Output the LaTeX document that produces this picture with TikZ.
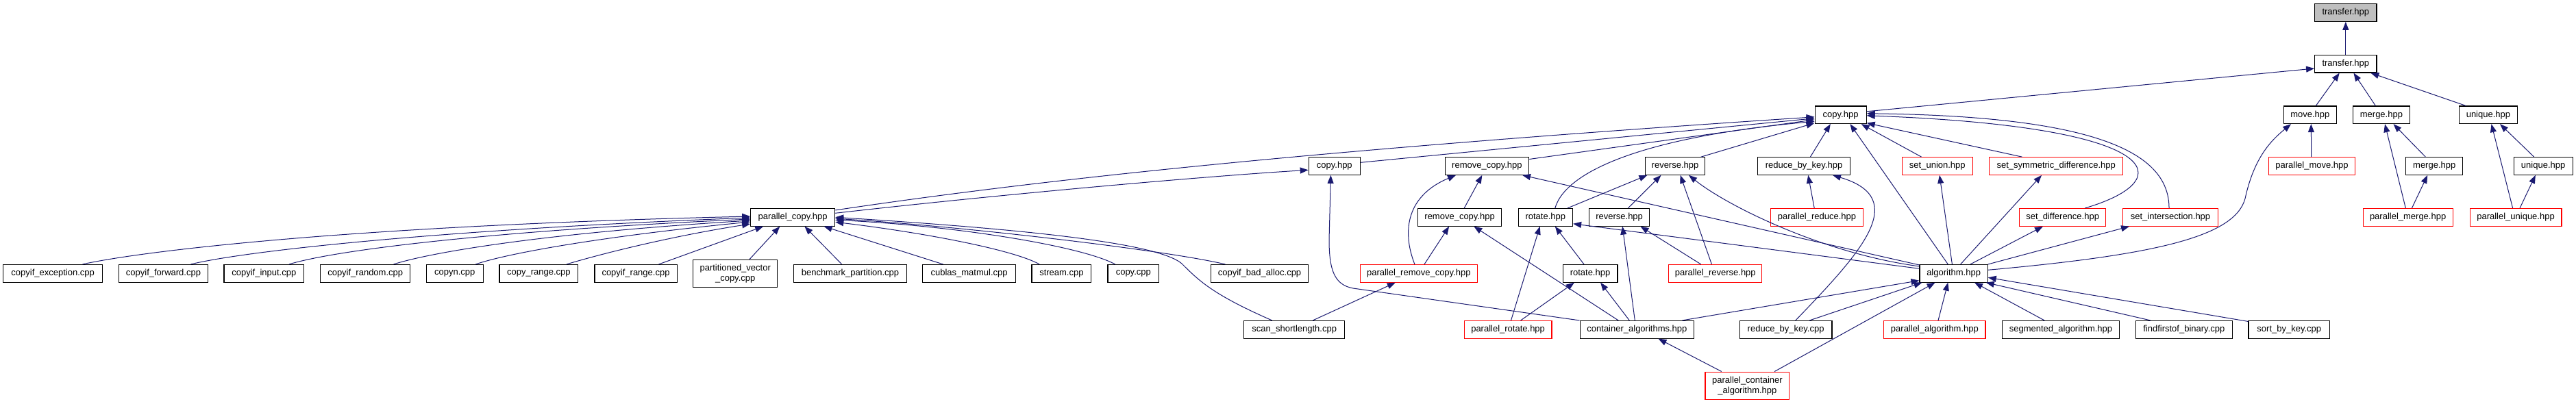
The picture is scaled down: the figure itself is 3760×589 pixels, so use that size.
\documentclass[tikz,border=0pt]{standalone}
\usepackage{fontspec}
\setmainfont{Liberation Sans}
\usetikzlibrary{arrows.meta}
\definecolor{edgeblue}{HTML}{191970}
\definecolor{rootgray}{HTML}{BFBFBF}
\definecolor{redbox}{HTML}{FF0000}
\tikzset{
  box/.style={draw=black, line width=1.1pt, fill=white, minimum height=25.6pt, inner sep=0pt, font=\fontsize{13}{15}\selectfont, text=black, align=center},
  redb/.style={box, draw=redbox},
  bw/.style={minimum width=#1pt},
  tall/.style={minimum height=40.3pt},
  e/.style={draw=edgeblue, line width=1pt, -{Triangle[length=12pt,width=9pt]}},
}
\begin{document}
\begin{tikzpicture}[x=1pt,y=-1pt]
\useasboundingbox (0,0) rectangle (3760,589);
\fill[white] (0,0) rectangle (3760,589);
% R0
\node[box, fill=rootgray, bw=90.4] (tg) at (3423.8,18.5) {transfer.hpp};
% R1
\node[box, bw=90.4] (tr) at (3423.8,93.2) {transfer.hpp};
% R2
\node[box, bw=75.1] (copyA) at (2686.6,167.8) {copy.hpp};
\node[box, bw=77.5] (move) at (3371.8,167.8) {move.hpp};
\node[box, bw=82.5] (merge) at (3475.9,167.8) {merge.hpp};
\node[box, bw=85.4] (unique) at (3631.9,167.8) {unique.hpp};
% R3
\node[box, bw=75.2] (copyB) at (1947.8,242.5) {copy.hpp};
\node[box, bw=122.6] (rcA) at (2170.4,242.5) {remove\_copy.hpp};
\node[box, bw=87.6] (revA) at (2445,242.5) {reverse.hpp};
\node[box, bw=134.7] (rbkh) at (2633,242.5) {reduce\_by\_key.hpp};
\node[redb, bw=102.9] (sunion) at (2827.8,242.5) {set\_union.hpp};
\node[redb, bw=195.1] (ssym) at (3001.2,242.5) {set\_symmetric\_difference.hpp};
\node[redb, bw=125.2] (pmove) at (3374.5,242.5) {parallel\_move.hpp};
\node[box, bw=82.9] (mergeB) at (3553.2,242.5) {merge.hpp};
\node[box, bw=85.8] (uniqueB) at (3712.1,242.5) {unique.hpp};
% R4
\node[box, bw=123] (pcopy) at (1157.2,317.3) {parallel\_copy.hpp};
\node[box, bw=122.6] (rcB) at (2130.6,317.3) {remove\_copy.hpp};
\node[box, bw=79.5] (rotA) at (2255.8,317.3) {rotate.hpp};
\node[box, bw=88] (revB) at (2363.6,317.3) {reverse.hpp};
\node[redb, bw=134.3] (preduce) at (2652,317.3) {parallel\_reduce.hpp};
\node[redb, bw=126.6] (sdiff) at (3010.6,317.3) {set\_difference.hpp};
\node[redb, bw=138.5] (sinter) at (3168,317.3) {set\_intersection.hpp};
\node[redb, bw=131] (pmerge) at (3514.6,317.3) {parallel\_merge.hpp};
\node[redb, bw=133.9] (punique) at (3672,317.3) {parallel\_unique.hpp};
% R5
\node[box, bw=144.7] (cex) at (77.2,399.3) {copyif\_exception.cpp};
\node[box, bw=129.7] (cfw) at (238.5,399.3) {copyif\_forward.cpp};
\node[box, bw=116.6] (cin) at (385.3,399.3) {copyif\_input.cpp};
\node[box, bw=131] (crand) at (533.2,399.3) {copyif\_random.cpp};
\node[box, bw=82.8] (copyn) at (663.8,399.3) {copyn.cpp};
\node[box, bw=114.9] (crange) at (786.4,399.3) {copy\_range.cpp};
\node[box, bw=120.1] (cifrange) at (928,399.3) {copyif\_range.cpp};
\node[box, bw=123, tall] (pvc) at (1073.2,399.3) {partitioned\_vector\\\_copy.cpp};
\node[box, bw=164.4] (bench) at (1241,399.3) {benchmark\_partition.cpp};
\node[box, bw=135.4] (cublas) at (1414.6,399.3) {cublas\_matmul.cpp};
\node[box, bw=86.8] (stream) at (1549.4,399.3) {stream.cpp};
\node[box, bw=74.7] (copycpp) at (1654.3,399.3) {copy.cpp};
\node[box, bw=142.7] (cbad) at (1838.5,399.3) {copyif\_bad\_alloc.cpp};
\node[redb, bw=170.7] (prc) at (2070.8,399.3) {parallel\_remove\_copy.hpp};
\node[box, bw=79.9] (rotB) at (2321,399.3) {rotate.hpp};
\node[redb, bw=136] (prev) at (2503.8,399.3) {parallel\_reverse.hpp};
\node[box, bw=99.2] (algo) at (2851.6,399.3) {algorithm.hpp};
% R6
\node[box, bw=146.7] (scan) at (1889.2,481.3) {scan\_shortlength.cpp};
\node[redb, bw=127.8] (prot) at (2201.1,481.3) {parallel\_rotate.hpp};
\node[box, bw=166.7] (calg) at (2389.4,481.3) {container\_algorithms.hpp};
\node[box, bw=134.7] (rbkcpp) at (2606.6,481.3) {reduce\_by\_key.cpp};
\node[redb, bw=148.2] (palg) at (2823.9,481.3) {parallel\_algorithm.hpp};
\node[box, bw=170.2] (seg) at (3008,481.3) {segmented\_algorithm.hpp};
\node[box, bw=140.5] (ffob) at (3187.8,481.3) {findfirstof\_binary.cpp};
\node[box, bw=118.6] (sbk) at (3341.3,481.3) {sort\_by\_key.cpp};
% R7
\node[redb, bw=122.8, tall] (pcalg) at (2550.4,563.2) {parallel\_container\\\_algorithm.hpp};

% ---- edges ----
\draw[e] (tr.north) -- (tg.south);
\draw[e] ([yshift=5pt]copyA.east) -- ([yshift=-6.8pt]tr.west);
\draw[e] ([xshift=8.5pt]move.north) -- ([xshift=-9.1pt]tr.south);
\draw[e] ([xshift=-8.5pt]merge.north) -- ([xshift=11.6pt]tr.south);
\draw[e] ([xshift=-32.7pt]unique.north) -- ([xshift=36.5pt]tr.south);
\draw[e] ([xshift=-0.8pt]pmove.north) -- ([xshift=1.5pt]move.south);
\draw[e] ([yshift=5pt]algo.east) .. controls (3150,372) and (3262,345) .. (3277,290) .. controls (3290,230) and (3315,205) .. ([xshift=-27.8pt]move.south);
\draw[e] ([xshift=-12.9pt]mergeB.north) -- ([xshift=17.6pt]merge.south);
\draw[e] ([xshift=-3.3pt]pmerge.north) -- ([xshift=5.1pt]merge.south);
\draw[e] ([xshift=5.8pt]pmerge.north) -- ([xshift=-10pt]mergeB.south);
\draw[e] ([xshift=-13.4pt]uniqueB.north) -- ([xshift=17.1pt]unique.south);
\draw[e] ([xshift=-4.4pt]punique.north) -- ([xshift=4.6pt]unique.south);
\draw[e] ([xshift=6pt]punique.north) -- ([xshift=-11.3pt]uniqueB.south);
% into copyA
\draw[e] ([yshift=-3pt]pcopy.north east) .. controls (1500,265) and (1900,220) .. ([yshift=-3pt]copyA.west);
\draw[e] ([yshift=6pt]pcopy.east) .. controls (1450,285) and (1750,258) .. ([yshift=-5.8pt]copyB.west);
\draw[e] ([yshift=5.2pt]copyB.east) -- ([yshift=-5pt]copyA.west);
\draw[e] ([yshift=10pt]rcA.east) -- ([yshift=-7pt]copyA.west);
\draw[e] ([xshift=14pt]rotA.north) .. controls (2285,250) and (2400,200) .. ([yshift=-9.5pt]copyA.west);
\draw[e] ([xshift=37.8pt]revA.north) -- ([yshift=1.5pt]copyA.south west);
\draw[e] ([xshift=9.4pt]rbkh.north) -- ([xshift=-14.8pt]copyA.south);
\draw[e] ([xshift=-8.3pt]algo.north) -- ([xshift=13.8pt]copyA.south);
\draw[e] ([xshift=-23.3pt]sunion.north) -- ([xshift=30.1pt]copyA.south);
\draw[e] ([xshift=-49.8pt]ssym.north) -- ([yshift=1.5pt]copyA.south east);
\draw[e] ([xshift=32.7pt]sdiff.north) .. controls (3185,262) and (3160,185) .. ([yshift=-1pt]copyA.east);
\draw[e] ([xshift=-2pt]sinter.north) .. controls (3166,230) and (3080,170) .. ([yshift=2pt]copyA.east);
% into copyB
\draw[e] (calg.north west) -- (1975,421) .. controls (1948,416) and (1940,395) .. (1940,350) -- ([xshift=-5.4pt]copyB.south);
% into rcA
\draw[e] ([xshift=-5.9pt]prc.north) .. controls (2045,335) and (2055,285) .. ([xshift=-45.4pt]rcA.south);
\draw[e] ([xshift=6.6pt]rcB.north) -- ([xshift=-7.1pt]rcA.south);
\draw[e] ([yshift=-1pt]algo.north west) -- ([xshift=51.6pt]rcA.south);
% into revA
\draw[e] ([xshift=32.2pt]rotA.north) -- ([xshift=-40.6pt]revA.south);
\draw[e] ([xshift=12.7pt]revB.north) -- ([xshift=-20.5pt]revA.south);
\draw[e] ([xshift=-5.4pt]prev.north) -- ([xshift=7.6pt]revA.south);
\draw[e] ([yshift=-3pt]algo.north west) .. controls (2660,370) and (2520,300) .. ([xshift=20pt]revA.south);
% into rotA
\draw[e] ([yshift=7pt]algo.west) -- ([yshift=-9.5pt]rotA.east);
\draw[e] ([xshift=4.4pt]prot.north) -- ([xshift=-8.1pt]rotA.south);
\draw[e] ([xshift=-9pt]rotB.north) -- ([xshift=14pt]rotA.south);
% into rotB
\draw[e] ([xshift=18.5pt]prot.north) -- ([xshift=-23.1pt]rotB.south);
\draw[e] ([xshift=-11.1pt]calg.north) -- ([xshift=15.1pt]rotB.south);
% into revB
\draw[e] ([xshift=-3.1pt]calg.north) -- ([xshift=4.6pt]revB.south);
\draw[e] ([xshift=-21.1pt]prev.north) -- ([xshift=30.8pt]revB.south);
% into rcB
\draw[e] ([xshift=8.2pt]prc.north) -- ([xshift=-15.5pt]rcB.south);
\draw[e] ([xshift=-27.2pt]calg.north) -- ([xshift=20.7pt]rcB.south);
% into prc
\draw[e] ([xshift=27pt]scan.north) -- ([xshift=-34pt]prc.south);
% into calg
\draw[e] ([xshift=-37.7pt]pcalg.north) -- ([xshift=31.1pt]calg.south);
% into algo
\draw[e] ([xshift=-18pt]calg.north east) -- ([yshift=3pt]algo.south west);
\draw[e] ([xshift=34.6pt]rbkcpp.north) -- ([xshift=4pt]algo.south west);
\draw[e] ([xshift=39.8pt]pcalg.north) -- ([xshift=-27pt]algo.south);
\draw[e] ([xshift=5.1pt]palg.north) -- ([xshift=-8.3pt]algo.south);
\draw[e] ([xshift=-23.9pt]seg.north) -- ([xshift=30.4pt]algo.south);
\draw[e] ([xshift=-48.8pt]ffob.north) -- ([xshift=-3pt]algo.south east);
\draw[e] ([yshift=-1.5pt]sbk.north west) -- ([yshift=-6pt]algo.east);
% into rbkh
\draw[e] ([xshift=-3.8pt]preduce.north) -- ([xshift=6.2pt]rbkh.south);
\draw[e] ([xshift=14.2pt]rbkcpp.north) .. controls (2715,370) and (2790,290) .. ([xshift=42pt]rbkh.south);
% into set nodes
\draw[e] ([xshift=-2.2pt]algo.north) -- ([xshift=3.2pt]sunion.south);
\draw[e] ([xshift=10pt]algo.north) -- ([xshift=-21.2pt]ssym.south);
\draw[e] ([xshift=24.3pt]algo.north) -- ([xshift=-28.6pt]sdiff.south);
\draw[e] (algo.north east) -- ([xshift=-60pt]sinter.south);
% into pcopy
\draw[e] ([xshift=43.3pt]cex.north) .. controls (200,368) and (500,330) .. ([yshift=1.3pt]pcopy.west);
\draw[e] ([xshift=39.9pt]cfw.north) .. controls (360,366) and (650,335) .. ([yshift=-0.7pt]pcopy.west);
\draw[e] ([xshift=36.6pt]cin.north) .. controls (490,365) and (720,337) .. ([yshift=-2.7pt]pcopy.west);
\draw[e] ([xshift=41.3pt]crand.north) .. controls (630,368) and (800,340) .. ([yshift=-4.7pt]pcopy.west);
\draw[e] ([xshift=30.5pt]copyn.north) .. controls (740,370) and (880,345) .. ([yshift=-6.7pt]pcopy.west);
\draw[e] ([xshift=40.5pt]crange.north) .. controls (880,370) and (980,345) .. ([yshift=-9.7pt]pcopy.west);
\draw[e] ([xshift=33.5pt]cifrange.north) -- ([xshift=-43pt]pcopy.south);
\draw[e] ([xshift=20.9pt]pvc.north) -- ([xshift=-18.9pt]pcopy.south);
\draw[e] ([xshift=-12.3pt]bench.north) -- ([xshift=17.2pt]pcopy.south);
\draw[e] ([xshift=-38pt]cublas.north) -- ([xshift=45.4pt]pcopy.south);
\draw[e] ([xshift=-32.2pt]stream.north) .. controls (1480,365) and (1350,340) .. ([yshift=-7pt]pcopy.east);
\draw[e] ([xshift=-26.6pt]copycpp.north) .. controls (1580,360) and (1400,330) .. ([yshift=-4pt]pcopy.east);
\draw[e] ([xshift=-50.1pt]cbad.north) .. controls (1700,365) and (1400,330) .. ([yshift=-2pt]pcopy.east);
\draw[e] ([xshift=-32.5pt]scan.north) .. controls (1770,430) and (1750,410) .. (1725,385) .. controls (1690,355) and (1500,335) .. (pcopy.east);
\end{tikzpicture}
\end{document}
